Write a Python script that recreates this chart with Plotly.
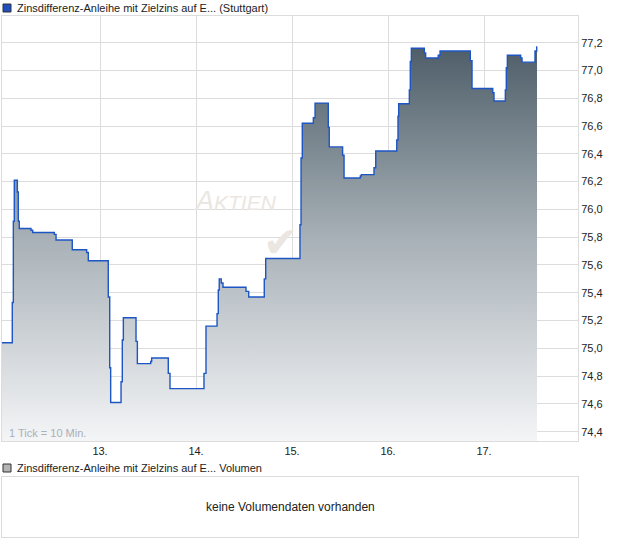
import plotly.graph_objects as go

# ---- data (day-of-month as fractional x, price) ----
times = [11.979, 12.086, 12.097, 12.107, 12.139, 12.149, 12.159, 12.281, 12.299,
         12.524, 12.542, 12.711, 12.861, 12.878, 13.086, 13.101, 13.111, 13.219,
         13.232, 13.243, 13.375, 13.389, 13.528, 13.538, 13.711, 13.729, 14.083,
         14.104, 14.219, 14.232, 14.242, 14.263, 14.281, 14.521, 14.549, 14.711,
         14.726, 15.083, 15.094, 15.107, 15.222, 15.240, 15.378, 15.388, 15.527,
         15.542, 15.711, 15.722, 15.854, 15.872, 16.091, 16.104, 16.111, 16.222,
         16.232, 16.243, 16.378, 16.392, 16.523, 16.542, 16.857, 16.875, 17.091,
         17.104, 17.222, 17.232, 17.243, 17.382, 17.396, 17.531, 17.549, 17.552]
prices = [75.04, 75.33, 75.915, 76.21, 76.125, 75.915, 75.863, 75.85, 75.834,
          75.82, 75.78, 75.71, 75.69, 75.63, 75.37, 74.86, 74.61, 74.76,
          75.06, 75.22, 75.05, 74.89, 74.905, 74.93, 74.82, 74.71, 74.82,
          75.16, 75.25, 75.42, 75.50, 75.47, 75.44, 75.41, 75.37, 75.50,
          75.647, 75.89, 76.37, 76.62, 76.66, 76.765, 76.59, 76.45, 76.39,
          76.226, 76.24, 76.25, 76.30, 76.42, 76.50, 76.67, 76.76, 76.86,
          77.065, 77.16, 77.126, 77.09, 77.11, 77.14, 77.07, 76.87, 76.84,
          76.78, 76.86, 77.02, 77.11, 77.09, 77.06, 77.14, 77.17, 77.17]

day_ticks = [13, 14, 15, 16, 17]
day_labels = ["13.", "14.", "15.", "16.", "17."]
price_ticks = [74.4, 74.6, 74.8, 75.0, 75.2, 75.4, 75.6, 75.8, 76.0, 76.2,
               76.4, 76.6, 76.8, 77.0, 77.2]

title_main = "Zinsdifferenz-Anleihe mit Zielzins auf E... (Stuttgart)"
title_vol = "Zinsdifferenz-Anleihe mit Zielzins auf E... Volumen"

W, H = 620, 546
def px(x):
    return x / W
def py(y):
    return 1 - y / H

FONT = "Liberation Sans, Arial, sans-serif"
GRID = "#dcdcdc"
WM = "#ebe6e1"

fig = go.Figure()
fig.add_trace(go.Scatter(
    x=times, y=prices, mode="lines", line=dict(color="#1d55c4", width=1.4, shape="hv"),
    fill="tozeroy",
    fillgradient=dict(type="vertical", start=74.33, stop=77.2,
                      colorscale=[[0, "#f4f5f7"], [0.5, "#a9b2b8"], [1, "#4c5c67"]]),
    hoverinfo="skip", showlegend=False, xaxis="x", yaxis="y"))

# empty volume panel
fig.add_trace(go.Scatter(x=[None], y=[None], xaxis="x2", yaxis="y2", showlegend=False))

fig.update_layout(
    width=W, height=H, margin=dict(l=0, r=0, t=0, b=0),
    paper_bgcolor="white", plot_bgcolor="white",
    separators=",.",
    font=dict(family=FONT, size=11, color="#222222"),
    xaxis=dict(domain=[px(2), px(578)], range=[11.979, 17.979],
               tickvals=day_ticks, ticktext=day_labels, showgrid=True, gridcolor=GRID,
               gridwidth=1, showline=True, mirror=True, linecolor=GRID, zeroline=False,
               ticks="", tickfont=dict(size=11, color="#222")),
    yaxis=dict(domain=[py(441), py(16)], range=[74.333, 77.392], side="right",
               tickvals=price_ticks, tickformat=".1f", showgrid=True, gridcolor=GRID,
               showline=True, mirror=True, linecolor=GRID, zeroline=False, ticks="",
               tickfont=dict(size=11, color="#222")),
    xaxis2=dict(domain=[px(2), px(578)], anchor="y2", showgrid=False, showticklabels=False,
                showline=True, mirror=True, linecolor=GRID, zeroline=False, ticks=""),
    yaxis2=dict(domain=[py(537), py(477)], anchor="x2", showgrid=False, showticklabels=False,
                showline=True, mirror=True, linecolor=GRID, zeroline=False, ticks=""),
    shapes=[
        dict(type="rect", xref="paper", yref="paper", x0=px(3), x1=px(11), y0=py(12), y1=py(4),
             fillcolor="#1f4fbf", line=dict(color="#333", width=1)),
        dict(type="rect", xref="paper", yref="paper", x0=px(3), x1=px(11), y0=py(472), y1=py(464),
             fillcolor="#b4b4b4", line=dict(color="#333", width=1)),
    ],
    annotations=[
        dict(text=title_main, xref="paper", yref="paper", x=px(15), y=py(8), xanchor="left",
             yanchor="middle", showarrow=False, font=dict(size=11, color="#222")),
        dict(text=title_vol, xref="paper", yref="paper", x=px(15), y=py(468), xanchor="left",
             yanchor="middle", showarrow=False, font=dict(size=11, color="#222")),
        dict(text="keine Volumendaten vorhanden", xref="paper", yref="paper", x=px(290),
             y=py(507), xanchor="center", yanchor="middle", showarrow=False,
             font=dict(size=12, color="#222")),
        dict(text="1 Tick = 10 Min.", xref="paper", yref="paper", x=px(7), y=py(433),
             xanchor="left", yanchor="middle", showarrow=False,
             font=dict(size=11, color="#a8b0b8")),
        dict(text="<i>A<span style='font-size:21px'>KTIEN</span></i>", xref="paper", yref="paper",
             x=px(236), y=py(201), xanchor="center", yanchor="middle", showarrow=False,
             font=dict(size=27, color=WM)),
        dict(text="✔", xref="paper", yref="paper", x=px(280), y=py(243), xanchor="center",
             yanchor="middle", showarrow=False, font=dict(size=42, color=WM,
                                                           family="DejaVu Sans")),
    ],
)

fig.write_html("out.html", config={"displayModeBar": False},
               post_script="document.body.style.margin='0';document.body.style.overflow='hidden';")
